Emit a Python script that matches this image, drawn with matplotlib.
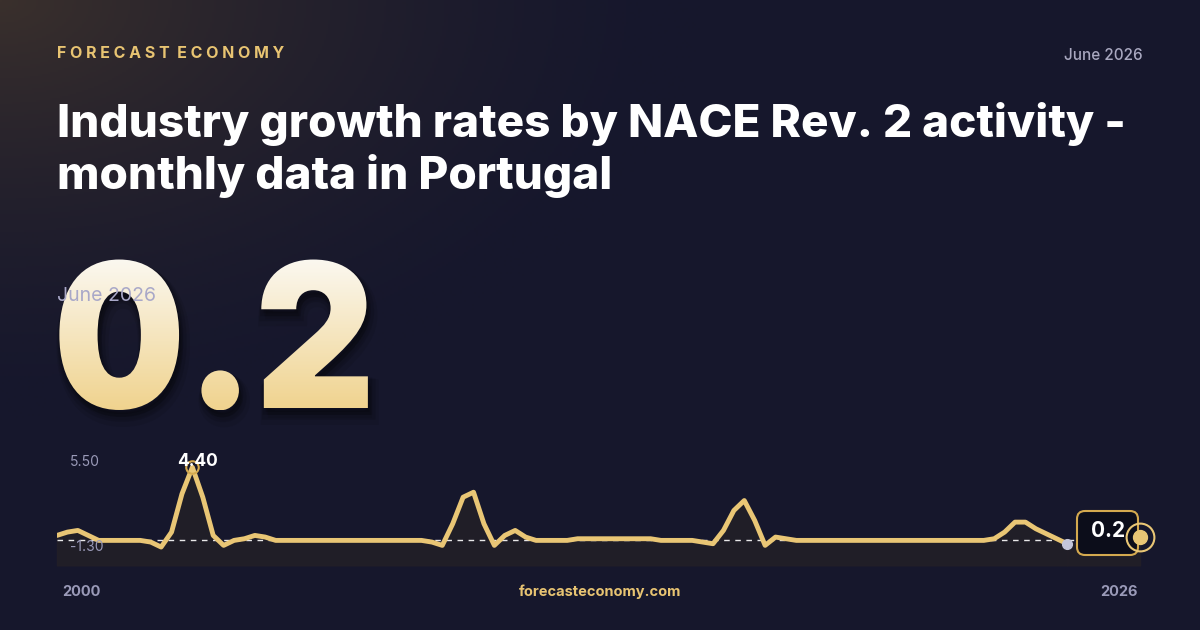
import matplotlib
matplotlib.use("Agg")
import matplotlib.pyplot as plt
import numpy as np
from matplotlib.textpath import TextPath
from matplotlib.font_manager import FontProperties
from matplotlib.patches import PathPatch, FancyBboxPatch
from matplotlib.transforms import Affine2D

# ---- data (quarterly) ----
start_year = 2000
values = [0.3,0.5,0.6,0.3,0.0,0.0,0.0,0.0,0.0,-0.1,-0.4,0.5,2.8,4.4,2.6,0.3,-0.3,0.0,0.1,0.3,
          0.2,0.0,0.0,0.0,0.0,0.0,0.0,0.0,0.0,0.0,0.0,0.0,0.0,0.0,0.0,0.0,-0.1,-0.3,1.0,2.6,
          2.9,1.0,-0.3,0.3,0.6,0.2,0.0,0.0,0.0,0.0,0.1,0.1,0.1,0.1,0.1,0.1,0.1,0.1,0.0,0.0,
          0.0,0.0,-0.1,-0.2,0.6,1.8,2.4,1.2,-0.3,0.2,0.1,0.0,0.0,0.0,0.0,0.0,0.0,0.0,0.0,0.0,
          0.0,0.0,0.0,0.0,0.0,0.0,0.0,0.0,0.0,0.0,0.1,0.5,1.1,1.1,0.7,0.4,0.1,-0.2]
latest_year = 2026
latest_value = 0.2
y_min, y_max = -1.30, 5.50
peak_value = 4.40
title = "Industry growth rates by NACE Rev. 2 activity -\nmonthly data in Portugal"
brand = "FORECAST ECONOMY"
date_label = "June 2026"
site = "forecasteconomy.com"

W, H = 1200, 630
fig = plt.figure(figsize=(12, 6.3), dpi=100)
bg = fig.add_axes([0, 0, 1, 1])
bg.set_xlim(0, W); bg.set_ylim(H, 0); bg.axis("off")

yy, xx = np.mgrid[0:H:2, 0:W:2]
base = np.array([0x16, 0x17, 0x2c]) / 255
warm = np.array([0x3a, 0x30, 0x2c]) / 255
d = np.sqrt((xx / 700.0) ** 2 + (yy / 420.0) ** 2)
w = np.clip(1 - d, 0, 1) ** 1.6
img = base[None, None, :] * (1 - w[..., None]) + warm[None, None, :] * w[..., None]
bg.imshow(img, extent=[0, W, H, 0], aspect="auto", zorder=0)

F = "Inter"
bg.text(57, 53, "  ".join(" ".join(wd) for wd in brand.split(" ")),
        color="#e8c472", fontsize=11.5, fontweight="bold", family=F, va="center")
bg.text(1143, 55, date_label, color="#a9a8c0", fontsize=11, fontweight="medium", family=F, va="center", ha="right")
bg.text(57, 150, title, color="white", fontsize=33, fontweight="heavy", family=F,
        va="center", linespacing=1.2)

# big number with gradient
fp = FontProperties(family=F, weight="black")
tp = TextPath((0, 0), "0.2", size=200, prop=fp)
scale = 146 / 145.0
tr = Affine2D().scale(scale * 0.925, -scale).translate(53, 408)
path = tr.transform_path(tp)
pe = path.get_extents()
for k, a in [(10, 0.08), (7, 0.1), (4, 0.12)]:
    bg.add_patch(PathPatch(Affine2D().translate(k * 0.4, k).transform_path(path),
                           fc="black", ec="black", lw=k, alpha=a, zorder=1))
patch = PathPatch(path, fc="none", ec="none", zorder=2)
bg.add_patch(patch)
gy = np.linspace(0, 1, 200)[:, None]
c1 = np.array([0xfb, 0xf8, 0xf0]) / 255
c2 = np.array([0xf0, 0xd3, 0x8e]) / 255
grad = c1[None, None, :] * (1 - gy[..., None]) + c2[None, None, :] * gy[..., None]
grad = np.repeat(grad, 2, axis=1)
im = bg.imshow(grad, extent=[pe.x0, pe.x1, pe.y1, pe.y0], aspect="auto", zorder=2)
im.set_clip_path(patch)
bg.set_xlim(0, W); bg.set_ylim(H, 0)
bg.text(57, 296, date_label, color="#a9a8c8", fontsize=14, family=F, va="center", zorder=3)

# ---- line chart ----
ax = fig.add_axes([57 / W, (H - 562) / H, (1140 - 57) / W, (562 - 449) / H])
ax.set_xlim(start_year, latest_year)
ax.set_ylim(y_min, y_max)
ax.axis("off")
t = start_year + np.arange(len(values)) / 4.0
v = np.array(values)
ax.fill_between(t, v, y_min - 0.2, color="#221f27", alpha=0.9, zorder=1, clip_on=False)
ax.fill_between([t[-1], latest_year], [v[-1], latest_value], y_min - 0.2, color="#221f27", alpha=0.9, zorder=1, clip_on=False)
ax.axhline(0, color="white", lw=1, ls=(0, (4, 4)), alpha=0.9, zorder=2)
ax.plot(t, v, color="#e9c675", lw=3.5, solid_joinstyle="round", solid_capstyle="round", zorder=3)
ax.plot(t[-1], v[-1], "o", color="#c3c5da", ms=7, zorder=4)
ipk = int(np.argmax(v))
ax.plot(t[ipk], v[ipk], "o", mfc="none", mec="#d4a94f", ms=9, mew=1.5, zorder=4)

# overlay for labels on top
ov = fig.add_axes([0, 0, 1, 1])
ov.set_xlim(0, W); ov.set_ylim(H, 0); ov.axis("off")
ov.text(70, 462, f"{y_max:.2f}", color="#9a9ab8", fontsize=10, family=F, va="center")
ov.text(70, 547, f"{y_min:.2f}", color="#9a9ab8", fontsize=10, family=F, va="center")
ov.text(198, 462, f"{peak_value:.2f}", color="white", fontsize=12.5, fontweight="bold", family=F,
        va="center", ha="center")
ov.add_patch(FancyBboxPatch((1077, 511), 61, 44, boxstyle="round,pad=0,rounding_size=8",
                            fc="#0c0d1a", ec="#d4a94f", lw=1.5, zorder=5))
ov.text(1108, 531, f"{latest_value}", color="white", fontsize=15, fontweight="bold", family=F,
        ha="center", va="center", zorder=6)
ax2 = fig.add_axes(ax.get_position())
ax2.set_xlim(start_year, latest_year); ax2.set_ylim(y_min, y_max); ax2.axis("off")
ax2.plot(latest_year, latest_value, "o", color="#e9c675", ms=10, clip_on=False)
ax2.plot(latest_year, latest_value, "o", mfc="none", mec="#e9c675", ms=20, mew=1.5, clip_on=False)

ov.text(62, 592, "2000", color="#9a9ab8", fontsize=10.5, fontweight="bold", family=F, va="center")
ov.text(1138, 592, "2026", color="#9a9ab8", fontsize=10.5, fontweight="bold", family=F, va="center", ha="right")
ov.text(600, 592, site, color="#e8c472", fontsize=10.5, fontweight="bold", family=F, va="center", ha="center")

fig.savefig("out.png", dpi=100)
